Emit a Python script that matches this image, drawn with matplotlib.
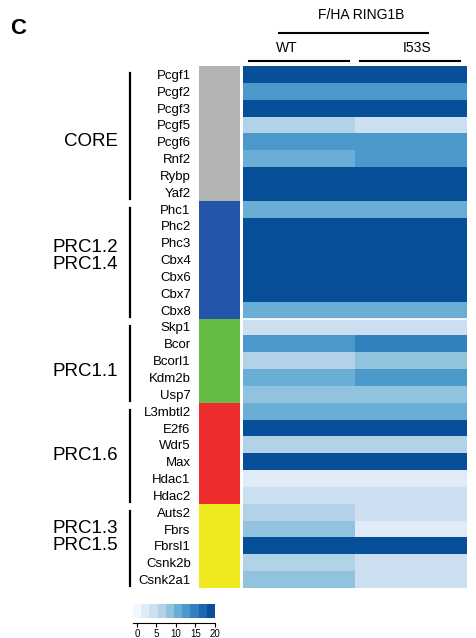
import numpy as np
import matplotlib
matplotlib.use("Agg")
import matplotlib.pyplot as plt
from matplotlib.colors import ListedColormap, BoundaryNorm

plt.rcParams['font.family'] = ['Liberation Sans', 'DejaVu Sans']

# ---- data ----
genes = ["Pcgf1", "Pcgf2", "Pcgf3", "Pcgf5", "Pcgf6", "Rnf2", "Rybp", "Yaf2",
         "Phc1", "Phc2", "Phc3", "Cbx4", "Cbx6", "Cbx7", "Cbx8",
         "Skp1", "Bcor", "Bcorl1", "Kdm2b", "Usp7",
         "L3mbtl2", "E2f6", "Wdr5", "Max", "Hdac1", "Hdac2",
         "Auts2", "Fbrs", "Fbrsl1", "Csnk2b", "Csnk2a1"]
wt = [19, 13, 19, 7, 13, 11, 19, 19,
      11, 19, 19, 19, 19, 19, 11,
      5, 13, 7, 11, 9,
      11, 19, 7, 19, 3, 5,
      7, 9, 19, 7, 9]
i53s = [19, 13, 19, 5, 13, 13, 19, 19,
        11, 19, 19, 19, 19, 19, 11,
        5, 15, 9, 13, 9,
        11, 19, 7, 19, 3, 5,
        5, 3, 19, 5, 5]
groups = ["CORE", "PRC1.2\nPRC1.4", "PRC1.1", "PRC1.6", "PRC1.3\nPRC1.5"]
group_sizes = [8, 7, 5, 6, 5]
group_colors = ["#b3b3b3", "#2356a8", "#66bb47", "#ee2e2e", "#eeea1e"]
conditions = ["WT", "I53S"]
cbar_ticks = [0, 5, 10, 15, 20]

W, H = 476, 638
fig = plt.figure(figsize=(W / 100, H / 100), dpi=100)


def px(x0, y0, x1, y1):
    return [x0 / W, 1 - y1 / H, (x1 - x0) / W, (y1 - y0) / H]


top, bottom = 66, 588
n = len(genes)
rowh = (bottom - top) / n

# colour scale: 10 bins from 0 to 20
cmap = ListedColormap(plt.cm.Blues(np.linspace(0.03, 0.88, 10)))
bounds = np.linspace(0, 20, 11)
norm = BoundaryNorm(bounds, cmap.N)

# heatmap
axh = fig.add_axes(px(243, top, 467, bottom))
vals = np.array([wt, i53s]).T
axh.pcolormesh(np.arange(3), np.arange(n + 1), vals, cmap=cmap, norm=norm)
axh.set_xlim(0, 2)
axh.set_ylim(n, 0)
axh.axhline(15, color="white", lw=1.2)
axh.axis("off")

# group colour strip
axs = fig.add_axes(px(199, top, 240, bottom))
gidx = np.repeat(np.arange(len(groups)), group_sizes)
axs.pcolormesh(np.arange(2), np.arange(n + 1), gidx[:, None],
               cmap=ListedColormap(group_colors), vmin=-0.5, vmax=len(groups) - 0.5)
axs.set_xlim(0, 1)
axs.set_ylim(n, 0)
axs.set_xticks([])
axs.set_yticks(np.arange(n) + 0.5)
axs.set_yticklabels(genes, fontsize=9.5)
axs.tick_params(axis="y", length=0, pad=6)
for s in axs.spines.values():
    s.set_visible(False)

# overlay for annotations
ax0 = fig.add_axes([0, 0, 1, 1], zorder=-1)
ax0.set_xlim(0, W)
ax0.set_ylim(H, 0)
ax0.axis("off")

ax0.text(10, 28, "C", fontsize=16, fontweight="bold", va="center", ha="left")
ax0.text(361, 15, "F/HA RING1B", fontsize=10, ha="center", va="center")
ax0.plot([279, 428], [33, 33], color="black", lw=1.5)
ax0.text(287, 48, conditions[0], fontsize=10, ha="center", va="center")
ax0.text(417, 48, conditions[1], fontsize=10, ha="center", va="center")
ax0.plot([249, 349], [61, 61], color="black", lw=1.5)
ax0.plot([360, 460], [61, 61], color="black", lw=1.5)

label_y = [141, 256, 372, 455, 537]
start = 0
for g, size, ly in zip(groups, group_sizes, label_y):
    y0 = top + start * rowh + 7
    y1 = top + (start + size) * rowh - 2
    ax0.plot([130, 130], [y0, y1], color="black", lw=1.6)
    ax0.text(118, ly, g, fontsize=13.5, ha="right", va="center",
             linespacing=0.95)
    start += size

# colour bar
axc = fig.add_axes(px(133, 604, 215, 623))
cb_edges = np.linspace(-1, 20, 11)
axc.pcolormesh(cb_edges, [0.25, 1], (bounds[:-1] + 1)[None, :], cmap=cmap, norm=norm)
axc.set_xlim(-1, 20)
axc.set_ylim(0, 1)
axc.set_yticks([])
axc.set_xticks(cbar_ticks)
axc.tick_params(axis="x", labelsize=7, length=3, pad=1)
for k in ["top", "left", "right"]:
    axc.spines[k].set_visible(False)

fig.savefig("out.png", dpi=100)
